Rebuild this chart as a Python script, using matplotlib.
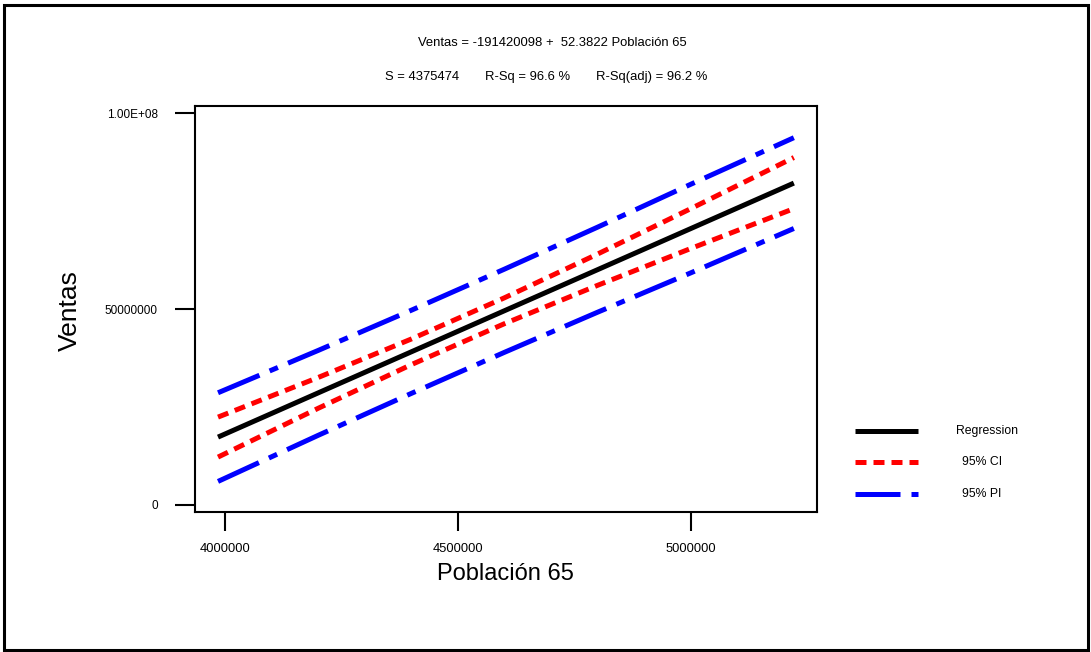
import matplotlib
matplotlib.use("Agg")
import matplotlib.pyplot as plt
from matplotlib.lines import Line2D
from matplotlib.patches import Rectangle

# Fitted line plot: Ventas vs Población 65
poblacion = [3985000, 4200000, 4400000, 4600000, 4800000, 5000000, 5222000]
regresion = [17.32e6, 28.59e6, 39.06e6, 49.54e6, 60.01e6, 70.49e6, 82.12e6]
ci_bajo = [12.22e6, 24.66e6, 35.79e6, 46.24e6, 56.02e6, 65.41e6, 75.60e6]
ci_alto = [22.42e6, 32.52e6, 42.33e6, 52.84e6, 64.00e6, 75.57e6, 88.64e6]
pi_bajo = [6.01e6, 17.76e6, 28.45e6, 38.93e6, 49.16e6, 59.19e6, 70.54e6]
pi_alto = [28.63e6, 39.42e6, 49.67e6, 60.15e6, 70.86e6, 81.79e6, 93.70e6]

x_ticks = [4000000, 4500000, 5000000]
y_ticks = [0, 50000000, 100000000]
y_ticklabels = ["0", "50000000", "1.00E+08"]

titulo = "Ventas = -191420098 +  52.3822 Población 65"
stats = ["S = 4375474", "R-Sq = 96.6 %", "R-Sq(adj) = 96.2 %"]
leyenda = ["Regression", "95% CI", "95% PI"]

W, H = 1091, 652
def fx(px):
    return px / W
def fy(py):
    return 1 - py / H

plt.rcParams["font.family"] = ["Liberation Sans", "DejaVu Sans"]

fig = plt.figure(figsize=(W / 100, H / 100), dpi=100)
ax = fig.add_axes([fx(194.5), fy(512), fx(817) - fx(194.5), fy(106) - fy(512)])

lw = 3.6
ci_dash = (0, (2.2, 1.4))
pi_dash = (0, (9, 2.2, 1.8, 2.2))

ax.plot(poblacion, pi_alto, color="#0000ff", lw=lw, linestyle=pi_dash)
ax.plot(poblacion, pi_bajo, color="#0000ff", lw=lw, linestyle=pi_dash)
ax.plot(poblacion, ci_alto, color="#ff0000", lw=lw, linestyle=ci_dash)
ax.plot(poblacion, ci_bajo, color="#ff0000", lw=lw, linestyle=ci_dash)
ax.plot(poblacion, regresion, color="black", lw=lw, solid_capstyle="butt")

ax.set_xlim(3934480, 5271750)
ax.set_ylim(-1.79e6, 101.79e6)
ax.set_xticks(x_ticks)
ax.set_xticklabels([str(v) for v in x_ticks])
ax.set_yticks(y_ticks)
ax.set_yticklabels(y_ticklabels)
ax.tick_params(axis="both", direction="out", width=1.5)
ax.tick_params(axis="y", length=14.5, pad=12, labelsize=8.5)
ax.tick_params(axis="x", length=14, pad=8, labelsize=9.3)
for s in ax.spines.values():
    s.set_linewidth(1.5)

ax.set_xlabel("Población 65", fontsize=17, labelpad=6)
fig.text(fx(70), fy(311), "Ventas", rotation=90, fontsize=19, ha="center", va="center")

# header
fig.text(fx(552), fy(46), titulo, fontsize=9.4, ha="center", va="baseline")
for txt, px in zip(stats, [385, 485, 596]):
    fig.text(fx(px), fy(80), txt, fontsize=9.4, ha="left", va="baseline")

# legend drawn by hand, like the Minitab one
estilos = [("black", "-"), ("#ff0000", ci_dash), ("#0000ff", pi_dash)]
for (c, ls), txt, py, tx in zip(estilos, leyenda, [431, 462, 494], [956, 962, 962]):
    fig.add_artist(Line2D([fx(855), fx(918)], [fy(py), fy(py)], color=c, lw=lw,
                          linestyle=ls, solid_capstyle="butt", transform=fig.transFigure))
    fig.text(fx(tx), fy(py), txt, fontsize=8.8, ha="left", va="center")

# outer frame of the graph window
fig.add_artist(Rectangle((fx(4), fy(650)), fx(1088) - fx(4), fy(5) - fy(650),
                         fill=False, lw=2.2, edgecolor="black", transform=fig.transFigure))

plt.savefig("out.png", dpi=100)
